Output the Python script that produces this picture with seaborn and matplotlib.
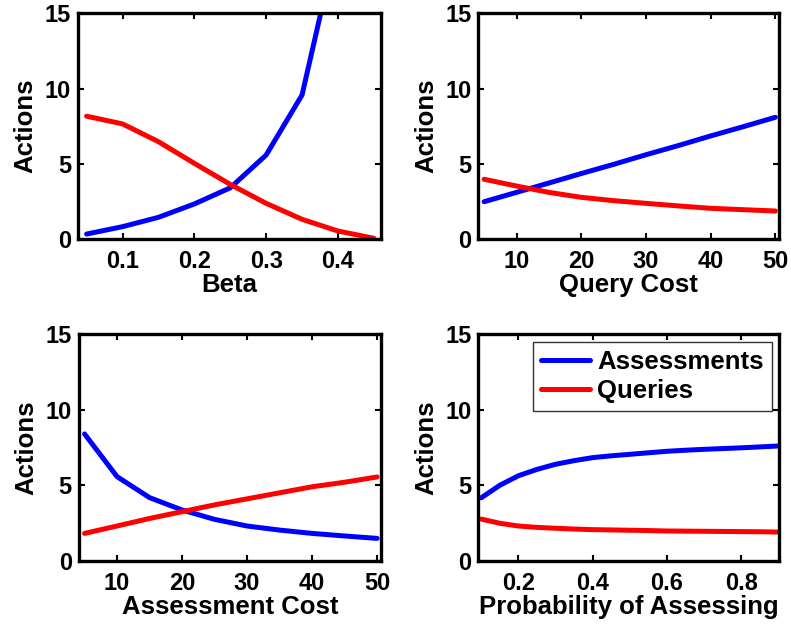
import numpy as np
import pandas as pd
import seaborn as sns
import matplotlib.pyplot as plt

# panel 1: Beta
beta = [0.05, 0.10, 0.15, 0.20, 0.25, 0.30, 0.35, 0.40, 0.45]
beta_assess = [0.33, 0.82, 1.44, 2.33, 3.40, 5.58, 9.57, 20.0, 45.0]
beta_query = [8.16, 7.65, 6.47, 5.03, 3.63, 2.37, 1.31, 0.53, 0.05]

# panel 2: Query Cost
qcost = [5, 10, 15, 20, 25, 30, 35, 40, 45, 50]
qcost_assess = [2.48, 3.10, 3.72, 4.35, 4.96, 5.60, 6.21, 6.85, 7.46, 8.09]
qcost_query = [3.97, 3.52, 3.10, 2.77, 2.55, 2.37, 2.20, 2.04, 1.95, 1.86]

# panel 3: Assessment Cost
acost = [5, 10, 15, 20, 25, 30, 35, 40, 45, 50]
acost_assess = [8.40, 5.57, 4.18, 3.36, 2.74, 2.30, 2.03, 1.81, 1.64, 1.48]
acost_query = [1.81, 2.30, 2.80, 3.25, 3.70, 4.10, 4.50, 4.90, 5.20, 5.55]

# panel 4: Probability of Assessing
prob = [0.10, 0.15, 0.20, 0.25, 0.30, 0.35, 0.40, 0.45, 0.50,
        0.55, 0.60, 0.65, 0.70, 0.75, 0.80, 0.85, 0.90]
prob_assess = [4.17, 5.00, 5.63, 6.05, 6.39, 6.63, 6.83, 6.95, 7.05,
               7.15, 7.25, 7.32, 7.38, 7.43, 7.48, 7.54, 7.60]
prob_query = [2.76, 2.48, 2.30, 2.21, 2.15, 2.10, 2.06, 2.04, 2.02,
              2.00, 1.97, 1.96, 1.95, 1.94, 1.93, 1.92, 1.90]

series_names = ["Assessments", "Queries"]
colors = {"Assessments": "#0000ff", "Queries": "#ff0000"}

panels = [
    (beta, beta_assess, beta_query, "Beta", (0.038, 0.46),
     [0.1, 0.2, 0.3, 0.4], ["0.1", "0.2", "0.3", "0.4"]),
    (qcost, qcost_assess, qcost_query, "Query Cost", (4.1, 50.6),
     [10, 20, 30, 40, 50], ["10", "20", "30", "40", "50"]),
    (acost, acost_assess, acost_query, "Assessment Cost", (4.1, 50.6),
     [10, 20, 30, 40, 50], ["10", "20", "30", "40", "50"]),
    (prob, prob_assess, prob_query, "Probability of Assessing", (0.092, 0.903),
     [0.2, 0.4, 0.6, 0.8], ["0.2", "0.4", "0.6", "0.8"]),
]

sns.set_style("ticks")
plt.rcParams['font.family'] = ['Liberation Sans', 'DejaVu Sans']
plt.rcParams['font.weight'] = 'bold'
plt.rcParams['text.color'] = 'black'
plt.rcParams['axes.labelcolor'] = 'black'
plt.rcParams['xtick.color'] = 'black'
plt.rcParams['ytick.color'] = 'black'

fig = plt.figure(figsize=(7.91, 6.27), dpi=100)
rects = [
    [0.0986, 0.6188, 0.3831, 0.3600],
    [0.6047, 0.6188, 0.3805, 0.3600],
    [0.0995, 0.1057, 0.3822, 0.3611],
    [0.6047, 0.1057, 0.3805, 0.3611],
]

for k, (x, a, q, xlabel, xlim, xt, xtl) in enumerate(panels):
    ax = fig.add_axes(rects[k])
    df = pd.DataFrame({
        "x": list(x) * 2,
        "Actions": list(a) + list(q),
        "series": [series_names[0]] * len(x) + [series_names[1]] * len(x),
    })
    sns.lineplot(data=df, x="x", y="Actions", hue="series", palette=colors,
                 linewidth=3.6, ax=ax, legend=(k == 3))
    ax.set_xlim(*xlim)
    ax.set_ylim(0, 15)
    ax.set_yticks([0, 5, 10, 15])
    ax.set_yticklabels(["0", "5", "10", "15"])
    ax.set_xticks(xt)
    ax.set_xticklabels(xtl)
    ax.set_xlabel(xlabel, fontsize=18.5, fontweight='bold', labelpad=0,
                  color='black')
    ax.set_ylabel("Actions", fontsize=18.5, fontweight='bold', labelpad=5,
                  color='black')
    ax.tick_params(direction='in', length=4, width=1.5, top=True, right=True,
                   labelsize=17, colors='black')
    ax.tick_params(axis='x', pad=8)
    ax.tick_params(axis='y', pad=5)
    for lab in ax.get_xticklabels() + ax.get_yticklabels():
        lab.set_fontweight('bold')
    for sp in ax.spines.values():
        sp.set_visible(True)
        sp.set_linewidth(2.4)
        sp.set_color('black')
    if k == 3:
        leg = ax.legend(loc='upper right', frameon=True,
                        fancybox=False, edgecolor='black', handlelength=1.9,
                        handletextpad=0.3, borderaxespad=0.3, borderpad=0.3,
                        labelspacing=0.2,
                        prop={'weight': 'bold', 'size': 18.5})
        leg.get_frame().set_linewidth(1.0)
        for line in leg.get_lines():
            line.set_linewidth(3.6)
        for t in leg.get_texts():
            t.set_color('black')

fig.savefig("out.png", dpi=100)
